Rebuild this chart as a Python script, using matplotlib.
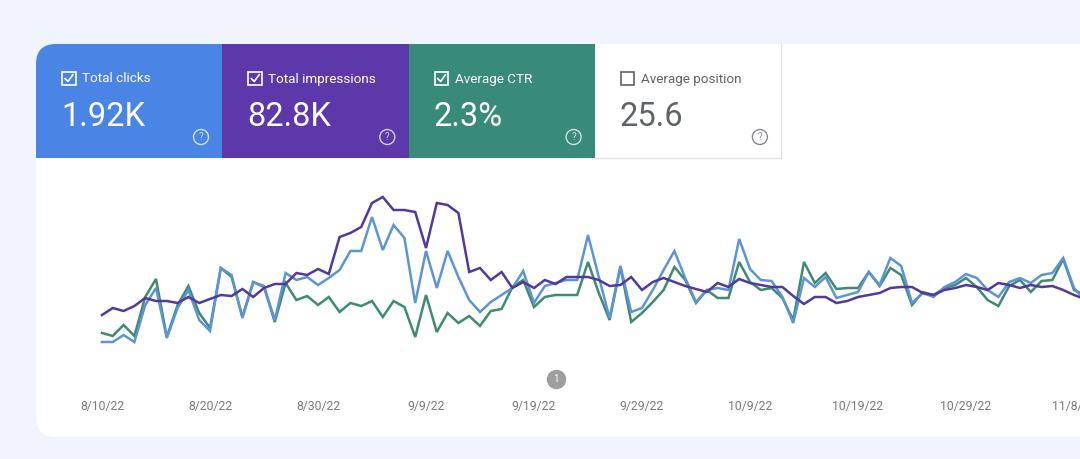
import datetime as dt
import matplotlib
matplotlib.use("Agg")
import matplotlib.pyplot as plt
import matplotlib.dates as mdates
from matplotlib.patches import FancyBboxPatch, Rectangle, Circle
from matplotlib.ticker import FuncFormatter

# --- data ---------------------------------------------------------------
# GSC puts every metric on its own hidden scale, so these are relative
# levels (no y axis is shown in the chart).
start_date = dt.datetime(2022, 8, 10)

clicks = [28, 28, 35, 28, 65, 82, 32, 62, 80, 50, 39, 102, 95, 52, 88, 84,
          50, 97, 90, 93, 85, 92, 100, 119, 119, 153, 120, 145, 132, 67, 119,
          82, 119, 93, 70, 58, 68, 75, 82, 99, 67, 84, 87, 90, 90, 135, 93,
          52, 104, 58, 62, 80, 100, 119, 92, 68, 80, 82, 80, 131, 101, 90, 89,
          73, 47, 92, 83, 93, 72, 75, 78, 98, 85, 112, 104, 67, 77, 73, 83,
          88, 96, 92, 80, 73, 88, 92, 87, 95, 97, 112, 82, 70]

impressions = [55, 62, 59, 64, 72, 69, 69, 67, 73, 67, 71, 75, 74, 81, 73,
               82, 86, 86, 97, 95, 101, 96, 133, 137, 143, 167, 173, 160, 160,
               158, 122, 167, 165, 157, 98, 102, 90, 98, 82, 88, 82, 90, 86,
               93, 93, 93, 90, 84, 85, 93, 80, 88, 92, 88, 84, 81, 78, 87, 83,
               91, 87, 85, 83, 83, 74, 66, 73, 73, 67, 69, 73, 75, 77, 82, 83,
               83, 77, 75, 80, 82, 85, 83, 80, 87, 85, 82, 85, 83, 84, 80, 75,
               71]

ctr = [37, 34, 45, 34, 73, 91, 33, 65, 84, 57, 42, 102, 93, 53, 88, 83, 48,
       87, 70, 74, 65, 73, 58, 67, 64, 69, 53, 69, 63, 33, 75, 38, 57, 47, 54,
       44, 59, 61, 83, 90, 63, 73, 75, 75, 75, 108, 77, 50, 103, 48, 57, 68,
       80, 103, 90, 67, 80, 72, 72, 108, 88, 80, 82, 72, 50, 108, 87, 97, 81,
       82, 82, 98, 84, 102, 95, 65, 78, 75, 82, 85, 92, 83, 70, 64, 84, 90, 78,
       89, 90, 111, 80, 75]

dates = [start_date + dt.timedelta(days=i) for i in range(len(clicks))]
tick_dates = [start_date + dt.timedelta(days=10 * i) for i in range(10)]
annotation_date = dt.datetime(2022, 9, 21)

tiles = [
    ("Total clicks", "1.92K", "#4a85e6", True),
    ("Total impressions", "82.8K", "#5c38ab", True),
    ("Average CTR", "2.3%", "#388a79", True),
    ("Average position", "25.6", "#ffffff", False),
]

line_colors = {"clicks": "#5c94d6", "impressions": "#52399d", "ctr": "#3f8b72"}

plt.rcParams["font.family"] = ["Roboto", "DejaVu Sans"]

W, H = 1080, 459
fig = plt.figure(figsize=(W / 100, H / 100), dpi=100)
fig.patch.set_facecolor("#f0f5fd")

# background layer in pixel coordinates for the card and the tiles
bg = fig.add_axes([0, 0, 1, 1], zorder=0)
bg.set_xlim(0, W)
bg.set_ylim(H, 0)
bg.axis("off")

card = FancyBboxPatch((36, 44), 1120, 393, boxstyle="round,pad=0,rounding_size=20",
                      facecolor="white", edgecolor="none")
bg.add_patch(card)

tile_w = 186.3
for i, (label, value, color, checked) in enumerate(tiles):
    x0 = 36 + i * tile_w
    dark = color != "#ffffff"
    rect = Rectangle((x0, 44), tile_w, 114, facecolor=color,
                     edgecolor="none")
    bg.add_patch(rect)
    rect.set_clip_path(card)
    fg = "white" if dark else "#5f6368"
    if not dark:
        bg.plot([x0 + tile_w, x0 + tile_w], [44, 158], color="#e3e3e3", lw=1)
        bg.plot([x0, x0 + tile_w], [158, 158], color="#e3e3e3", lw=1)
    # checkbox
    bg.add_patch(Rectangle((x0 + 26, 71.5), 13.5, 13.5, facecolor="none",
                           edgecolor=fg, lw=1.2))
    if checked:
        bg.plot([x0 + 29, x0 + 32, x0 + 37], [78.5, 81.5, 74.5], color=fg, lw=1.2,
                solid_capstyle="round")
    bg.text(x0 + 46, 79, label, color=fg, fontsize=9.7, va="center", ha="left")
    bg.text(x0 + 25, 114, value, color=fg, fontsize=23.5, va="center_baseline",
            ha="left")
    # help icon
    bg.add_patch(Circle((x0 + 165, 137), 7.5, facecolor="none", edgecolor=fg,
                        lw=1.0, alpha=0.75))
    bg.text(x0 + 165, 137.5, "?", color=fg, fontsize=7, ha="center",
            va="center", alpha=0.75)

# --- the chart ---------------------------------------------------------
px_per_day = 10.8
left_px, right_px, top_px, bottom_px = 60, W, 180, 360
ax = fig.add_axes([left_px / W, 1 - bottom_px / H, (right_px - left_px) / W,
                   (bottom_px - top_px) / H], zorder=1)
ax.patch.set_alpha(0)

ax.plot(dates, ctr, color=line_colors["ctr"], lw=1.8, solid_joinstyle="miter")
ax.plot(dates, clicks, color=line_colors["clicks"], lw=1.8, solid_joinstyle="miter")
ax.plot(dates, impressions, color=line_colors["impressions"], lw=1.8,
        solid_joinstyle="miter")

x_left = start_date - dt.timedelta(days=(102 - left_px) / px_per_day)
x_right = start_date + dt.timedelta(days=(right_px - 102) / px_per_day)
ax.set_xlim(x_left, x_right)
ax.set_ylim(10, 190)

ax.set_xticks(tick_dates)
ax.xaxis.set_major_formatter(FuncFormatter(
    lambda v, pos: "{d.month}/{d.day}/{d:%y}".format(d=mdates.num2date(v))))
ax.tick_params(axis="x", length=0, pad=28.5, labelsize=8.8, labelcolor="#7b7b7b")
ax.set_yticks([])
for s in ax.spines.values():
    s.set_visible(False)

# annotation marker
trans = ax.get_xaxis_transform()
ann_y = (bottom_px - 379) / (bottom_px - top_px)
ax.plot([annotation_date], [ann_y], marker="o", ms=13, color="#9e9e9e",
        transform=trans, clip_on=False)
ax.text(annotation_date, ann_y, "1", color="white", fontsize=7, ha="center",
        va="center", transform=trans, clip_on=False)

fig.savefig("out.png", dpi=100, facecolor=fig.get_facecolor())
